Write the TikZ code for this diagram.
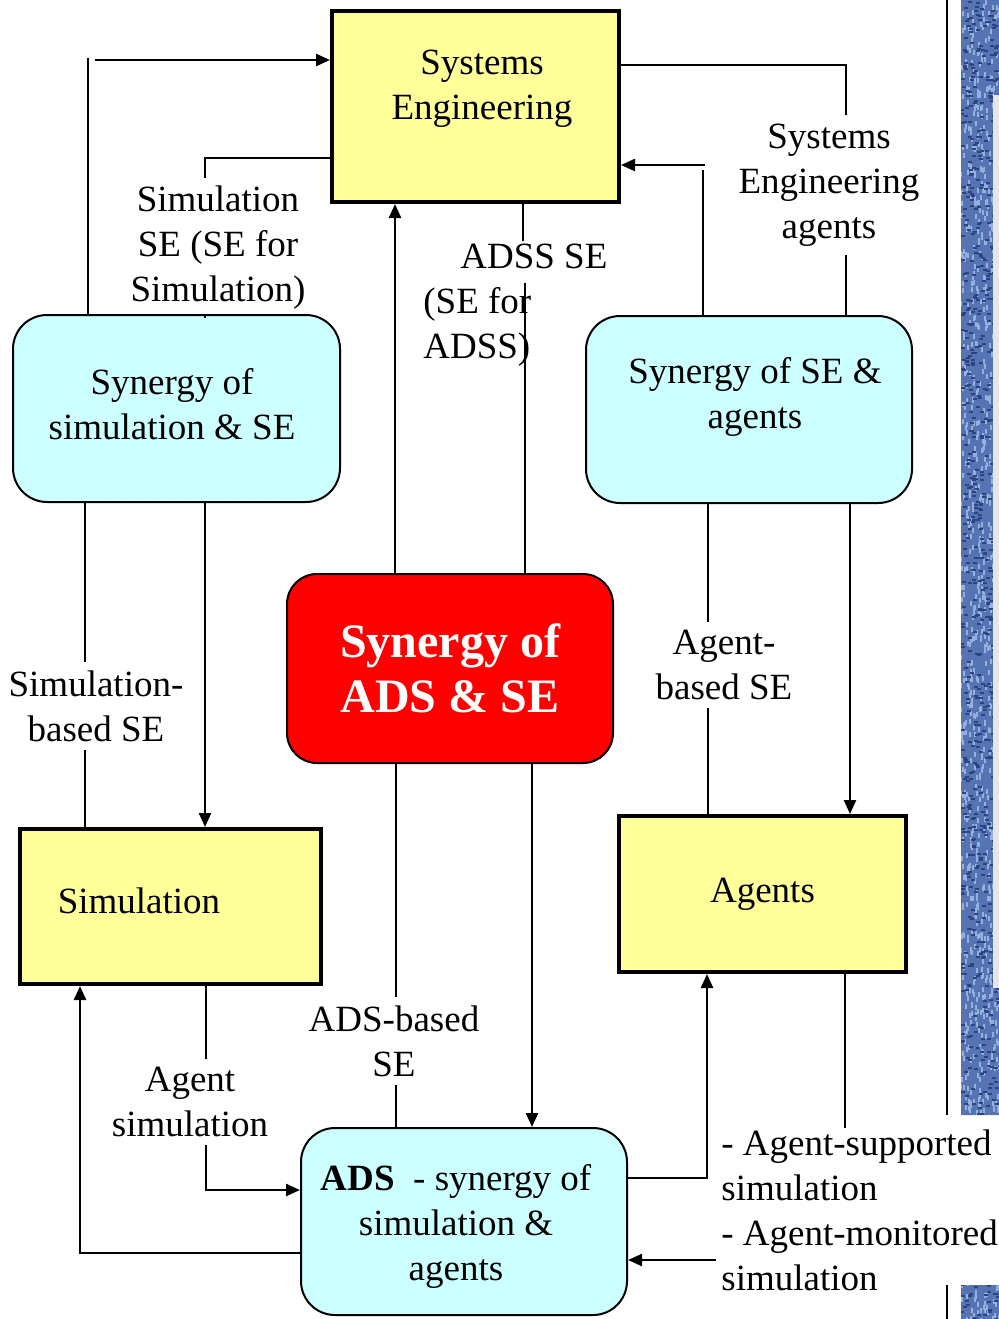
\documentclass[tikz,border=0pt]{standalone}
\usepackage{fontspec}
\setmainfont{Liberation Serif}
\usetikzlibrary{arrows.meta}

\definecolor{boxyellow}{RGB}{255,255,153}
\definecolor{boxcyan}{RGB}{204,255,255}
\definecolor{stripblue}{RGB}{86,116,180}
\definecolor{stripdark}{RGB}{45,68,128}
\definecolor{striplight}{RGB}{150,176,222}

\tikzset{
  yellowbox/.style={draw, line width=2pt, fill=boxyellow, inner sep=0pt},
  cyanbox/.style={draw, line width=1pt, fill=boxcyan, rounded corners=17pt,
    inner sep=0pt, align=center},
  redbox/.style={draw, line width=1pt, fill=red, rounded corners=15pt,
    inner sep=0pt, align=center, text=white,
    font=\fontsize{24}{27.5}\selectfont\bfseries},
  txt/.style={align=center, inner sep=1pt},
  lbl/.style={align=center, inner sep=4pt},
  link/.style={line width=0.8pt},
  arr/.style={line width=1.2pt, -{Triangle[length=7pt,width=6pt]}}
}

\begin{document}
\begin{tikzpicture}[x=0.5pt, y=-0.5pt, font=\fontsize{18.5}{22.5}\selectfont]
  \useasboundingbox (0,0) rectangle (999,1319);

  % Rand rechts
  \begin{scope}
    \clip (961,0) rectangle (999,1115) (961,1285) rectangle (999,1319);
    \fill[stripblue] (961,0) rectangle (999,1319);
    \pgfmathsetseed{7}
    \foreach \i in {1,...,1100}{
      \pgfmathsetmacro{\px}{960+40*rnd}
      \pgfmathsetmacro{\py}{1319*rnd}
      \fill[striplight] (\px,\py) rectangle ++(2,5);
    }
    \foreach \i in {1,...,900}{
      \pgfmathsetmacro{\px}{960+40*rnd}
      \pgfmathsetmacro{\py}{1319*rnd}
      \fill[stripdark] (\px,\py) rectangle ++(4,2);
    }
  \end{scope}
  \fill[gray!20] (993,95) rectangle (999,988);
  \draw[line width=1pt] (947,0) -- (947,1115);
  \draw[line width=1pt] (947,1285) -- (947,1319);

  % Kaesten
  \node[yellowbox, minimum width=143.5pt, minimum height=95.5pt] (se) at (475.5,106.5) {};
  \node[txt] (setxt) at (482,89) {Systems\\Engineering};
  \node[cyanbox, minimum width=163.5pt, minimum height=93.5pt] (sse) at (176.5,408.5) {};
  \node[txt] (ssetxt) at (172,404) {Synergy of\\simulation \& SE};
  \node[cyanbox, minimum width=163pt, minimum height=93.5pt] (ssa) at (749,409.5) {};
  \node[txt] (ssatxt) at (755,397) {Synergy of SE \&\\agents};
  \node[redbox, minimum width=163pt, minimum height=94.5pt] (synads) at (450,668.5) {Synergy of\\ADS \& SE};
  \node[yellowbox, minimum width=150.5pt, minimum height=77.5pt] (sim) at (170.5,906.5) {};
  \node[txt] (simtxt) at (139,901) {Simulation};
  \node[yellowbox, minimum width=143.5pt, minimum height=78pt] (agents) at (762.5,894) {Agents};
  \node[cyanbox, minimum width=163pt, minimum height=93.5pt] (ads) at (464,1221.5) {};
  \node[txt] (adstxt) at (456,1226) {\textbf{ADS}\enspace- synergy of\\simulation \&\\agents};

  % Beschriftungen
  \node[lbl] (simse) at (218,248) {Simulation\\SE (SE for\\Simulation)};
  \node[lbl, anchor=west, align=left, inner sep=1pt] (adss) at (421,305) {\hspace*{18.5pt}ADSS SE\\(SE for\\ADSS)};
  \node[lbl] (seag) at (829,185) {Systems\\Engineering\\agents};
  \node[lbl] (simbased) at (96,706) {Simulation-\\based SE};
  \node[lbl] (agbased) at (724,665) {Agent-\\based SE};
  \node[lbl] (adsbased) at (394,1041) {ADS-based\\SE};
  \node[lbl] (agsim) at (190,1102) {Agent\\simulation};
  \node[lbl, anchor=west, align=left, inner sep=1pt] (agsup) at (719,1210.5) {- Agent-supported\\simulation\\- Agent-monitored\\simulation};

  % Knickpunkte
  \coordinate (k1) at (88,58);
  \coordinate (k1b) at (95,60);
  \coordinate (k2) at (205,158);
  \coordinate (k3) at (395,0);
  \coordinate (k4) at (523,0);
  \coordinate (k4b) at (525,283);
  \coordinate (k5) at (703,170);
  \coordinate (k5b) at (705,165);
  \coordinate (k6) at (846,65);
  \coordinate (k7) at (85,0);
  \coordinate (k8) at (205,0);
  \coordinate (k9) at (708,0);
  \coordinate (k10) at (850,0);
  \coordinate (k11) at (396,0);
  \coordinate (k12) at (532,0);
  \coordinate (k13) at (206,1190);
  \coordinate (k14) at (80,1253);
  \coordinate (k15) at (707,1178);
  \coordinate (k16) at (845,0);
  \coordinate (k17) at (716,1260);

  % Oben
  \draw[link] (sse.north -| k1) -- (k1);
  \draw[arr] (k1b) -- (se.west |- k1b);
  \draw[link] (se.west |- k2) -| (simse.north -| k2);
  \draw[link] (simse.south -| k2) -- (sse.north -| k2);
  \draw[arr] (synads.north -| k3) -- (se.south -| k3);
  \draw[link] (se.south -| k4) -- (adss.north -| k4);
  \draw[link] (k4b) -- (synads.north -| k4b);
  \draw[link] (ssa.north -| k5) -- (k5);
  \draw[arr] (k5b) -- (se.east |- k5b);
  \draw[link] (se.east |- k6) -| (seag.north -| k6);
  \draw[link] (seag.south -| k6) -- (ssa.north -| k6);

  % Mitte
  \draw[link] (sse.south -| k7) -- (simbased.north -| k7);
  \draw[link] (simbased.south -| k7) -- (sim.north -| k7);
  \draw[arr] (sse.south -| k8) -- (sim.north -| k8);
  \draw[link] (ssa.south -| k9) -- (agbased.north -| k9);
  \draw[link] (agbased.south -| k9) -- (agents.north -| k9);
  \draw[arr] (ssa.south -| k10) -- (agents.north -| k10);
  \draw[link] (synads.south -| k11) -- (adsbased.north -| k11);
  \draw[link] (adsbased.south -| k11) -- (ads.north -| k11);
  \draw[arr] (synads.south -| k12) -- (ads.north -| k12);

  % Unten
  \draw[link] (sim.south -| k13) -- (agsim.north -| k13);
  \draw[arr] (agsim.south -| k13) |- (ads.west |- k13);
  \draw[arr] (ads.west |- k14) -| (sim.south -| k14);
  \draw[arr] (ads.east |- k15) -| (agents.south -| k15);
  \draw[link] (agents.south -| k16) -- (agsup.north -| k16);
  \draw[arr] (k17) -- (ads.east |- k17);
\end{tikzpicture}
\end{document}
